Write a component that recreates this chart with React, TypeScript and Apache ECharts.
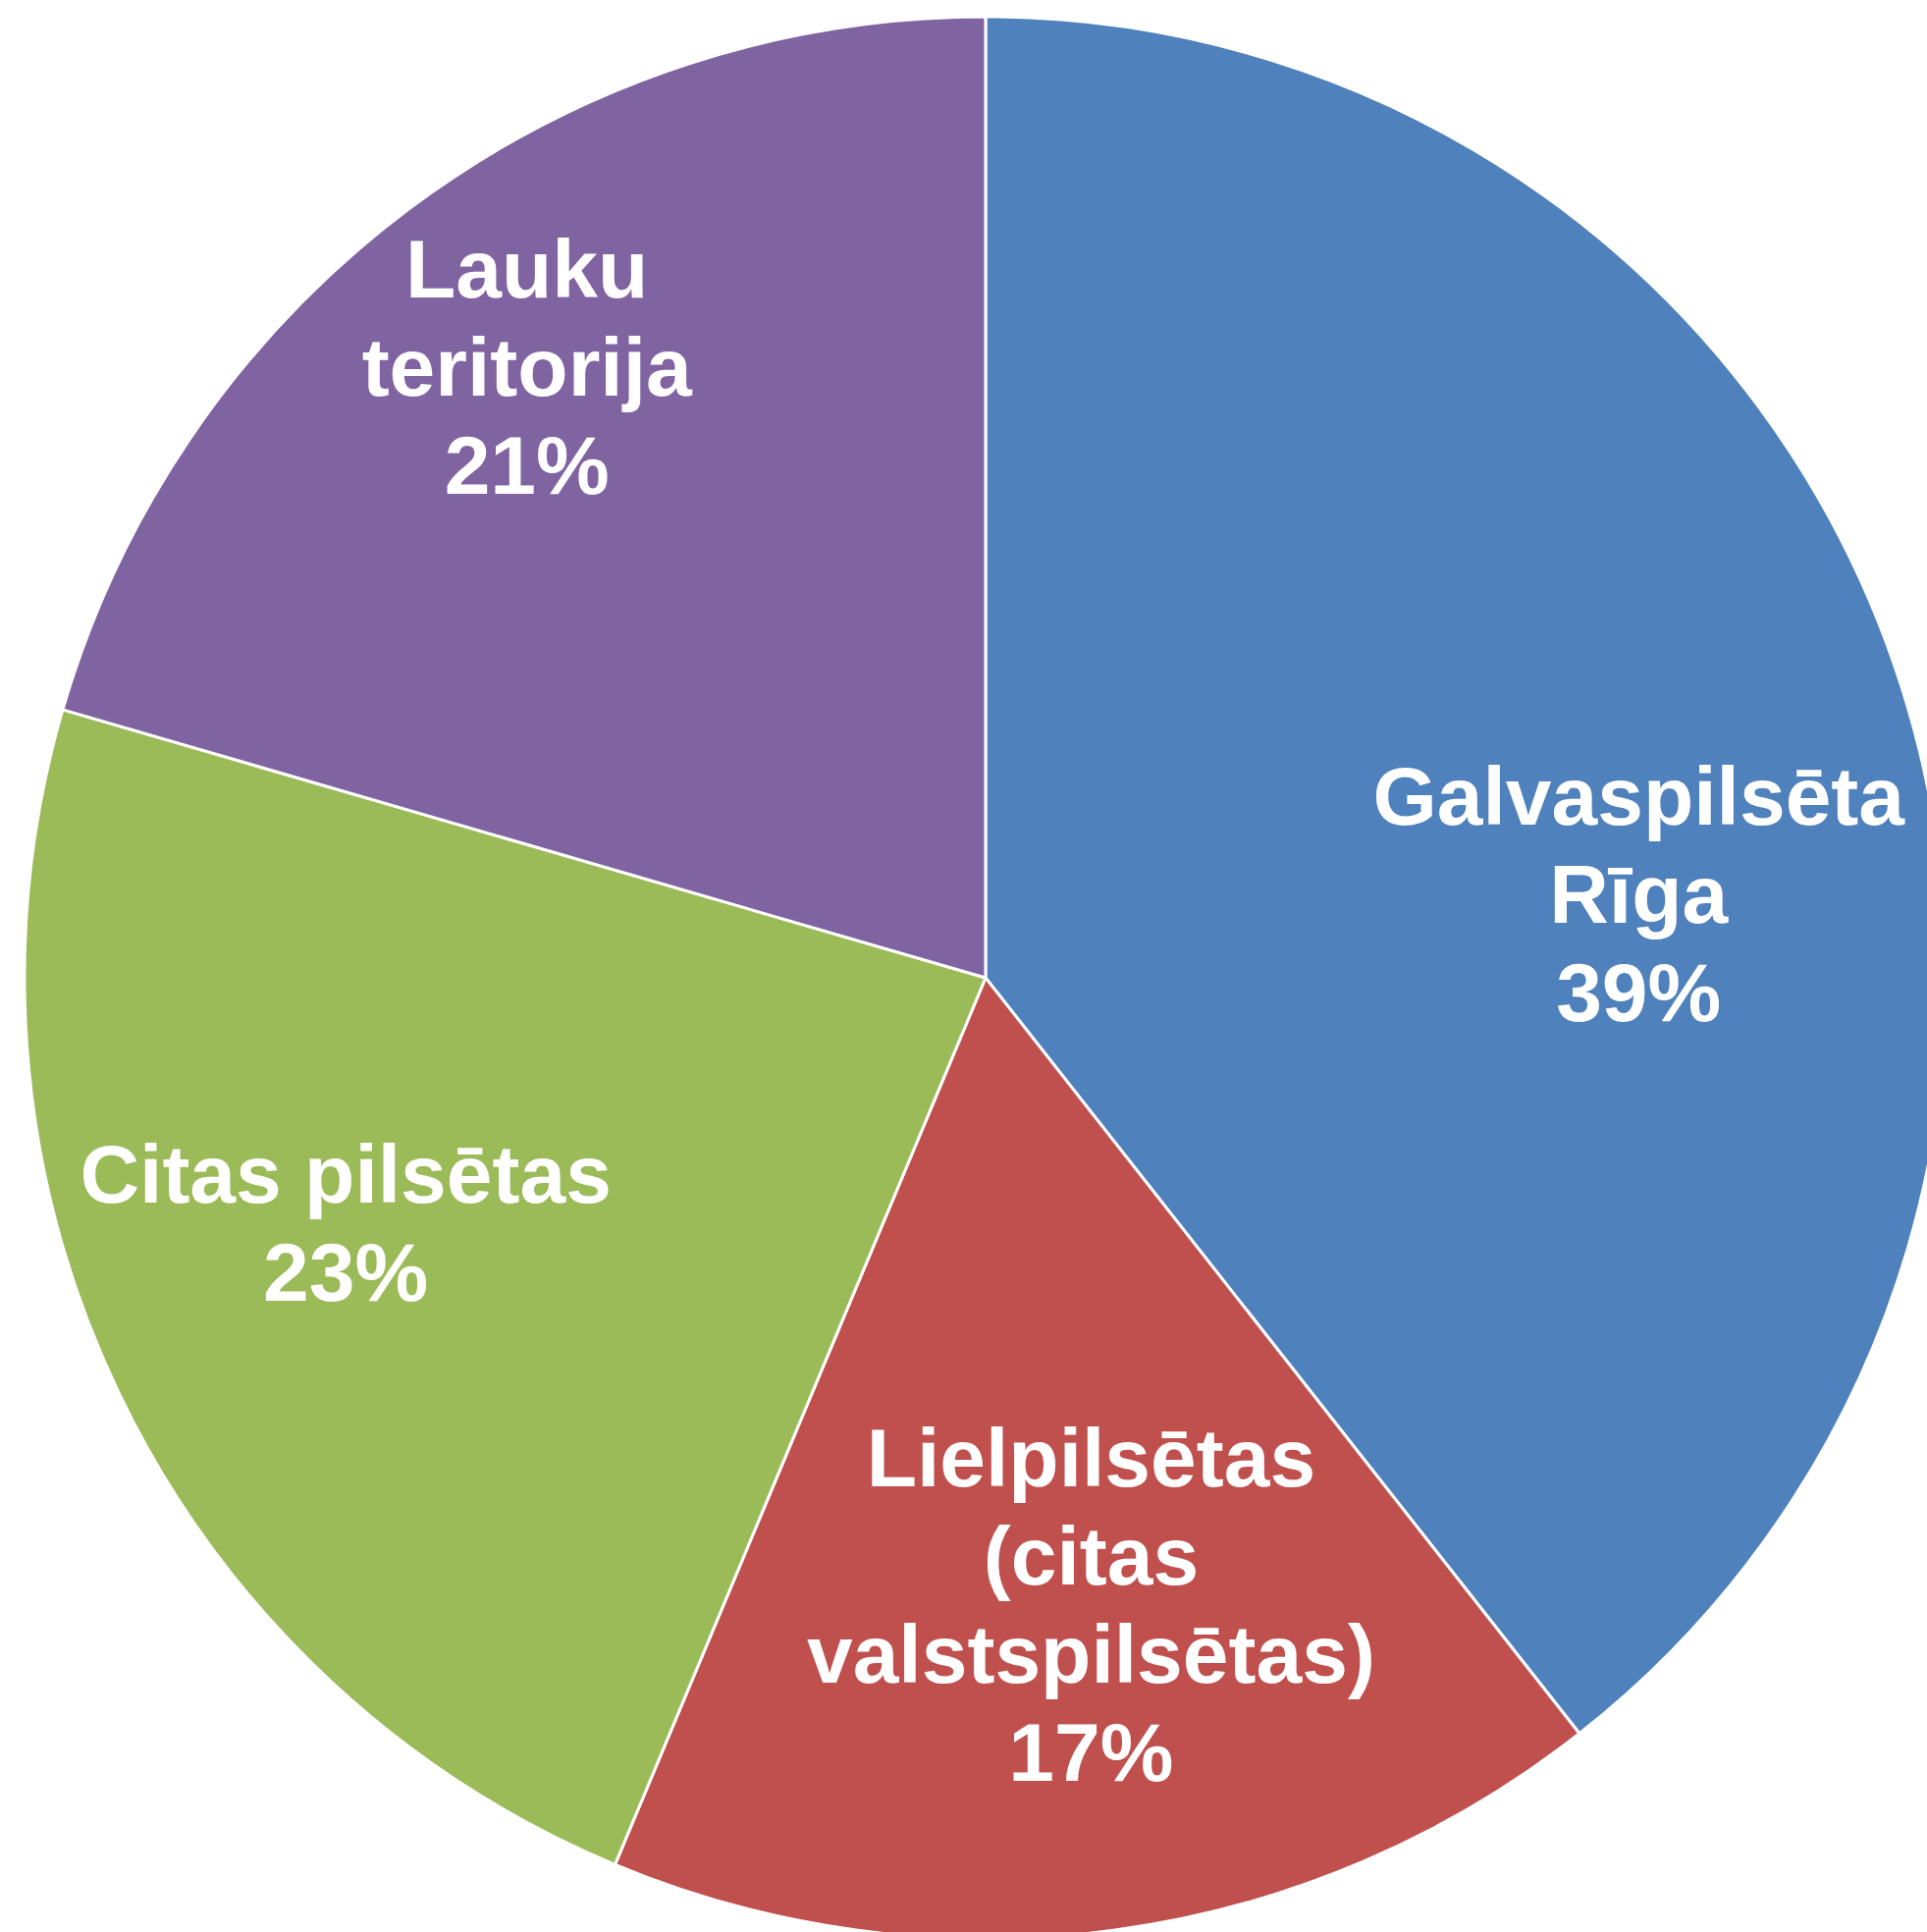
import React, { useEffect, useRef } from "react";
import * as echarts from "echarts";

// Data
const categories = [
  "Galvaspilsēta\nRīga",
  "Lielpilsētas\n(citas\nvalstspilsētas)",
  "Citas pilsētas",
  "Lauku\nteritorija",
];
const values = [39.4, 16.9, 23.2, 20.5];
const colors = ["#4F81BD", "#C0504D", "#9BBB59", "#8064A2"];

// Layout tweaks for label placement (ratio of radius, angle shift in degrees)
const labelRadiusRatio = [0.685, 0.662, 0.713, 0.795];
const labelAngleShift = [11.8, -1.8, 4.6, 0];

const W = 1963;
const H = 1968;
const CX = 1004;
const CY = 996;
const R = 979;

export default function App() {
  const ref = useRef<HTMLDivElement>(null);
  useEffect(() => {
    document.body.style.margin = "0";
    if (!ref.current) return;
    const chart = echarts.init(ref.current, null, { renderer: "svg" });
    const total = values.reduce((a, b) => a + b, 0);
    let cum = 0;
    const midAngles = values.map((v) => {
      const a = ((cum + v / 2) / total) * 360;
      cum += v;
      return a;
    });
    chart.setOption({
      animation: false,
      backgroundColor: "#ffffff",
      series: [
        {
          type: "pie",
          center: [CX, CY],
          radius: [0, R],
          startAngle: 90,
          clockwise: true,
          silent: true,
          itemStyle: { borderColor: "#ffffff", borderWidth: 3 },
          label: {
            show: true,
            position: "inside",
            color: "#ffffff",
            fontFamily: "'Liberation Sans', Arial, sans-serif",
            fontWeight: "bold",
            fontSize: 84,
            lineHeight: 100,
            align: "center",
            formatter: (p: any) => `${p.name}\n${Math.round(p.percent)}%`,
          },
          labelLine: { show: false },
          labelLayout: (p: any) => {
            const i = p.dataIndex;
            const ang = ((midAngles[i] + labelAngleShift[i]) * Math.PI) / 180;
            const rr = R * labelRadiusRatio[i];
            return {
              x: CX + rr * Math.sin(ang),
              y: CY - rr * Math.cos(ang),
              align: "center",
              verticalAlign: "middle",
            };
          },
          data: categories.map((name, i) => ({
            name,
            value: values[i],
            itemStyle: { color: colors[i] },
          })),
        },
      ],
    });
    return () => chart.dispose();
  }, []);
  return <div ref={ref} style={{ width: W, height: H }} />;
}
